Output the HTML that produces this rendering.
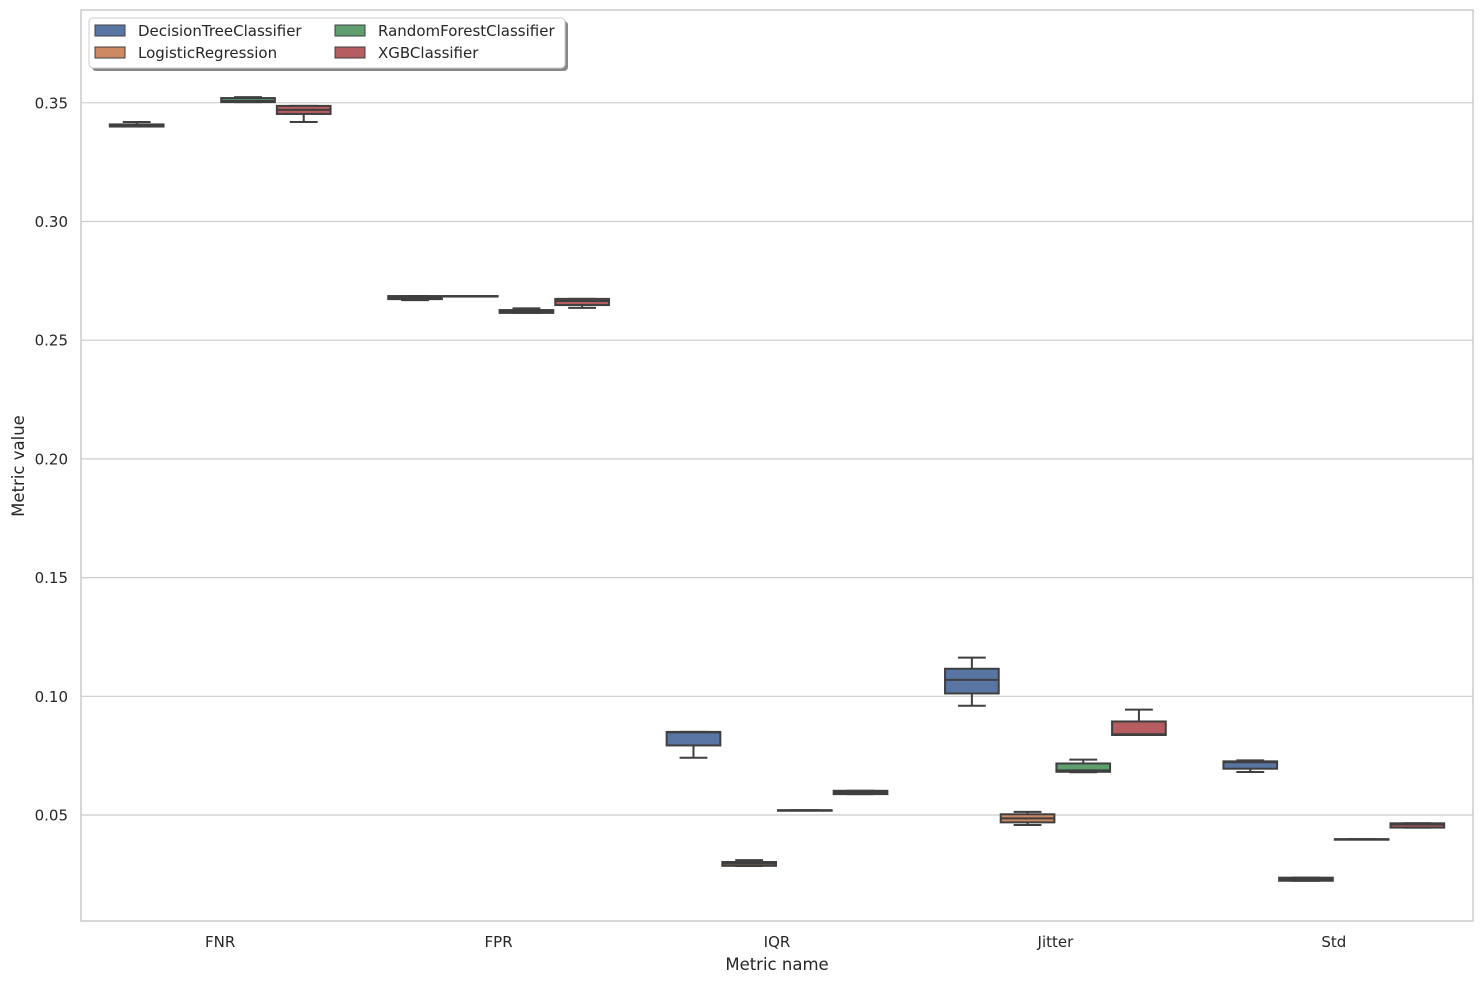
<!DOCTYPE html>
<html><head><meta charset="utf-8"><style>
body{margin:0;background:#fff;}
svg text{font-family:"DejaVu Sans","Liberation Sans",sans-serif;fill:#262626;}
</style></head><body>
<svg id="chart" width="1484" height="984" xmlns="http://www.w3.org/2000/svg"></svg>
<script>
const categories = ["FNR","FPR","IQR","Jitter","Std"];
const models = ["DecisionTreeClassifier","LogisticRegression","RandomForestClassifier","XGBClassifier"];
const yTicks = [0.05,0.10,0.15,0.20,0.25,0.30,0.35];
const yTickLabels = ["0.05","0.10","0.15","0.20","0.25","0.30","0.35"];
// [whiskerLow, q1, median, q3, whiskerHigh]
const decisionTree = [[0.3400,0.3400,0.3402,0.3409,0.3419],[0.2669,0.2673,0.2680,0.2686,0.2686],[0.0741,0.0793,0.0848,0.0850,0.0850],[0.0960,0.1012,0.1069,0.1116,0.1163],[0.0681,0.0695,0.0722,0.0726,0.0730]];
const logisticReg = [null,[0.2686,0.2686,0.2686,0.2686,0.2686],[0.0285,0.0286,0.0295,0.0302,0.0310],[0.0458,0.0469,0.0486,0.0503,0.0513],[0.0223,0.0223,0.0230,0.0236,0.0236]];
const randomForest = [[0.3503,0.3503,0.3508,0.3520,0.3524],[0.2615,0.2615,0.2620,0.2627,0.2634],[0.0520,0.0520,0.0520,0.0520,0.0520],[0.0680,0.0682,0.0688,0.0717,0.0733],[0.0398,0.0398,0.0398,0.0398,0.0398]];
const xgb = [[0.3419,0.3453,0.3470,0.3487,0.3487],[0.2636,0.2648,0.2665,0.2674,0.2674],[0.0588,0.0588,0.0595,0.0602,0.0602],[0.0837,0.0837,0.0840,0.0894,0.0944],[0.0447,0.0447,0.0460,0.0465,0.0465]];
const seriesData = [decisionTree, logisticReg, randomForest, xgb];
const colors = ["#5875a4","#cc8963","#5f9e6e","#b55d60"];

const NS="http://www.w3.org/2000/svg";
const svg=document.getElementById('chart');
const L=81,R=1473,T=10,B=921;
function y(v){return 815-(v-0.05)*(118.7/0.05);}
const band=(R-L)/categories.length;
function xc(i){return L+band*(i+0.5);}
const bw=band*0.8/models.length;
function mk(tag,attrs,parent){const e=document.createElementNS(NS,tag);for(const k in attrs)e.setAttribute(k,attrs[k]);(parent||svg).appendChild(e);return e;}

yTicks.forEach((t,i)=>{
  const g=mk('line',{x1:L,x2:R,y1:y(t),y2:y(t),stroke:'#cccccc','stroke-width':1.2});
  
  
  const tx=mk('text',{x:L-13,y:y(t)+5.5,'text-anchor':'end','font-size':15});
  tx.textContent=yTickLabels[i];
  
  
});
const frame=mk('rect',{x:L,y:T,width:R-L,height:B-T,fill:'none',stroke:'#cccccc','stroke-width':1.5});



categories.forEach((c,i)=>{
  const tx=mk('text',{x:xc(i),y:947,'text-anchor':'middle','font-size':15});
  tx.textContent=c;
  
  
});

const lc='#3f3f3f';
seriesData.forEach((ser,m)=>{
  ser.forEach((d,i)=>{
    if(!d)return;
    const cx=xc(i)+(m-1.5)*bw;
    const g=mk('g',{});
    
    
    const [lo,q1,md,q3,hi]=d;
    mk('line',{x1:cx,x2:cx,y1:y(hi),y2:y(q3),stroke:lc,'stroke-width':2},g);
    mk('line',{x1:cx,x2:cx,y1:y(q1),y2:y(lo),stroke:lc,'stroke-width':2},g);
    mk('line',{x1:cx-bw/4,x2:cx+bw/4,y1:y(hi),y2:y(hi),stroke:lc,'stroke-width':2},g);
    mk('line',{x1:cx-bw/4,x2:cx+bw/4,y1:y(lo),y2:y(lo),stroke:lc,'stroke-width':2},g);
    mk('rect',{x:cx-bw/2+1,y:y(q3),width:bw-2,height:Math.max(0.5,y(q1)-y(q3)),fill:colors[m],stroke:lc,'stroke-width':2},g);
    mk('line',{x1:cx-bw/2+1,x2:cx+bw/2-1,y1:y(md),y2:y(md),stroke:lc,'stroke-width':2},g);
  });
});

const xl=mk('text',{x:(L+R)/2,y:970,'text-anchor':'middle','font-size':16.5});
xl.textContent='Metric name';


const yl=mk('text',{x:0,y:0,'text-anchor':'middle','font-size':16.5,transform:'translate(24,466) rotate(-90)'});
yl.textContent='Metric value';



const lg=mk('g',{});


mk('rect',{x:92,y:21,width:476,height:50,rx:4,fill:'#888'},lg);
mk('rect',{x:89,y:18,width:476,height:50,rx:4,fill:'#fff',stroke:'#cccccc','stroke-width':1},lg);
models.forEach((n,m)=>{
  const col=Math.floor(m/2),row=m%2;
  const px=95+col*240,py=25+row*22;
  const e=mk('g',{},lg);
  
  
  mk('rect',{x:px,y:py,width:30,height:11,fill:colors[m],stroke:lc,'stroke-width':1},e);
  const t=mk('text',{x:px+43,y:py+11,'font-size':15},e);
  t.textContent=n;
});
</script>
</body></html>
